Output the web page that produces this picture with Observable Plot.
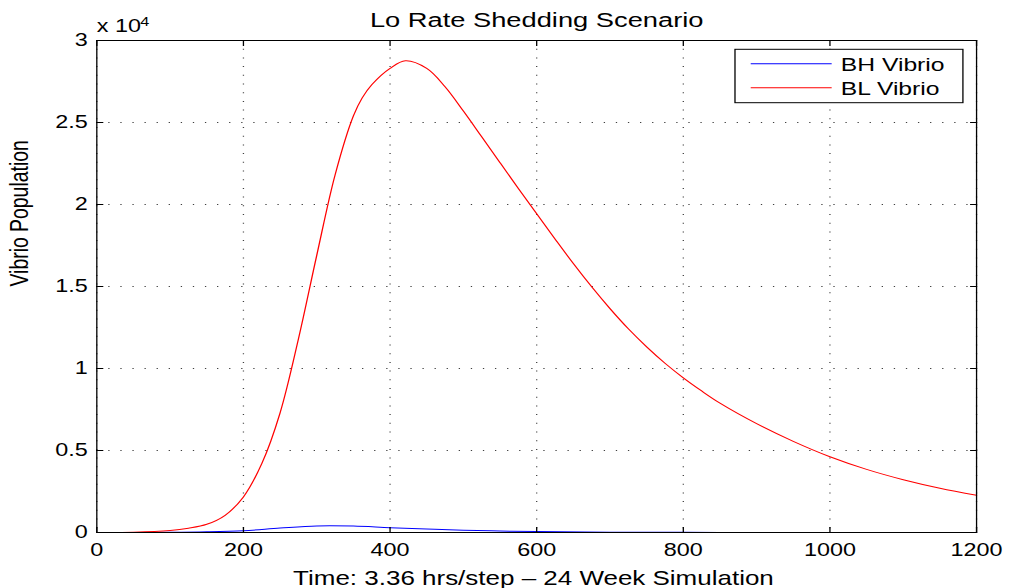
<!DOCTYPE html>
<html>
<head>
<meta charset="utf-8">
<script src="https://cdn.jsdelivr.net/npm/d3@7"></script>
<script src="https://cdn.jsdelivr.net/npm/@observablehq/plot@0.6"></script>
<style>
  html, body { margin: 0; padding: 0; background: white; }
  #chart { width: 1011px; height: 588px; overflow: hidden; }
</style>
</head>
<body>
<div id="chart"></div>
<script>
// ---- data ----
const title = "Lo Rate Shedding Scenario";
const xLabel = "Time: 3.36 hrs/step \u2013 24 Week Simulation";
const yLabel = "Vibrio Population";
const seriesNames = ["BH Vibrio", "BL Vibrio"];
const seriesColors = ["#0000ff", "#ff0000"];

const xTicks = [0, 200, 400, 600, 800, 1000, 1200];
const yTicks = [0, 5000, 10000, 15000, 20000, 25000, 30000];

const blSteps = [0, 50, 100, 125, 150, 175, 200, 225, 250, 275, 300, 325, 350, 362, 375, 400, 421, 450, 475, 500, 525, 550, 575, 600, 625, 650, 675, 700, 725, 750, 775, 800, 825, 850, 900, 950, 1000, 1050, 1100, 1150, 1200];
const blValues = [0, 15, 120, 260, 500, 1050, 2170, 4200, 7300, 11800, 16900, 21800, 25400, 26500, 27300, 28300, 28760, 28300, 27180, 25700, 24130, 22550, 20980, 19430, 17900, 16400, 14980, 13650, 12420, 11320, 10320, 9430, 8630, 7890, 6640, 5560, 4620, 3850, 3220, 2700, 2270];

const bhSteps = [0, 50, 100, 150, 200, 250, 300, 350, 400, 450, 500, 550, 600, 700, 800, 900, 1000, 1100, 1200];
const bhValues = [0, 2, 10, 40, 110, 270, 400, 390, 290, 210, 140, 90, 55, 20, 8, 3, 1, 0, 0];

// ---- build table ----
const rows = [
  ...bhSteps.map((s, i) => ({step: s, value: bhValues[i], series: seriesNames[0]})),
  ...blSteps.map((s, i) => ({step: s, value: blValues[i], series: seriesNames[1]}))
];

const W = 778, H = 588;           // drawn in a narrower box, then stretched to 1011 wide

const fmt = d => d === 0 ? "0" : String(+(d / 1e4).toFixed(1));

const plot = Plot.plot({
  width: W,
  height: H,
  marginLeft: 74,
  marginRight: 27,
  marginTop: 40,
  marginBottom: 56,
  style: {fontFamily: "'Liberation Sans', Arial, sans-serif", fontSize: "18px", background: "white", color: "black"},
  x: {domain: [0, 1200], ticks: xTicks, label: null},
  y: {domain: [0, 30000], ticks: yTicks, label: null},
  color: {domain: seriesNames, range: seriesColors},
  marks: [
    Plot.gridX(xTicks, {stroke: "#000", strokeOpacity: 0.75, strokeDasharray: "1,7.7"}),
    Plot.gridY(yTicks, {stroke: "#000", strokeOpacity: 0.75, strokeDasharray: "1,8.3"}),
    Plot.line(rows, {x: "step", y: "value", z: "series", stroke: "series", strokeWidth: 1, curve: "catmull-rom"}),
    Plot.frame({stroke: "#000", strokeWidth: 1}),
    // inward ticks on all four sides
    Plot.axisX(xTicks, {anchor: "bottom", tickSize: -5, tickFormat: () => "", label: null}),
    Plot.axisX(xTicks, {anchor: "top", tickSize: -5, tickFormat: () => "", label: null}),
    Plot.axisY(yTicks, {anchor: "left", tickSize: -5.5, tickFormat: () => "", label: null}),
    Plot.axisY(yTicks, {anchor: "right", tickSize: -5.5, tickFormat: () => "", label: null}),
    // tick labels
    Plot.axisX(xTicks, {anchor: "bottom", tickSize: 0, tickPadding: 11, tickFormat: d => String(d), fontSize: 18, label: null}),
    Plot.axisY(yTicks, {anchor: "left", tickSize: 0, tickPadding: 7, tickFormat: fmt, fontSize: 18, label: null}),
    // titles
    Plot.text([title], {frameAnchor: "top", lineAnchor: "bottom", dy: -13.3, fontSize: 21}),
    Plot.text([xLabel], {frameAnchor: "bottom", lineAnchor: "bottom", dx: -2.5, dy: 52, fontSize: 20}),
    Plot.text([yLabel], {frameAnchor: "left", lineAnchor: "bottom", rotate: -90, dx: -53.2, fontSize: 19.4}),
    Plot.text(["x 10"], {frameAnchor: "top-left", textAnchor: "start", lineAnchor: "bottom", dy: -8.3, fontSize: 18}),
    Plot.text(["4"], {frameAnchor: "top-left", textAnchor: "start", lineAnchor: "bottom", dx: 33.5, dy: -15, fontSize: 12.5})
  ]
});

// ---- legend (drawn inside the same SVG, top-right of the axes) ----
const svg = d3.select(plot);
const lg = svg.append("g").attr("class", "legend").attr("text-anchor", "start");
lg.append("rect")
  .attr("x", 565.6).attr("y", 49.3).attr("width", 175.4).attr("height", 53.4)
  .attr("fill", "white").attr("stroke", "black").attr("stroke-width", 1);
seriesNames.forEach((name, i) => {
  const y = 63.7 + i * 24;
  lg.append("line").attr("x1", 577.7).attr("x2", 640).attr("y1", y).attr("y2", y)
    .attr("stroke", seriesColors[i]).attr("stroke-width", 1);
  lg.append("text").attr("x", 647).attr("y", y + 7).attr("font-size", 19)
    .attr("text-anchor", "start").attr("fill", "black")
    .text(name);
});

// stretch horizontally to the reference's aspect
plot.setAttribute("viewBox", `0 0 ${W} ${H}`);
plot.setAttribute("width", 1011);
plot.setAttribute("height", H);
plot.setAttribute("preserveAspectRatio", "none");
plot.style.width = "1011px";
plot.style.height = H + "px";
plot.style.maxWidth = "none";

document.getElementById("chart").appendChild(plot);
</script>
</body>
</html>
